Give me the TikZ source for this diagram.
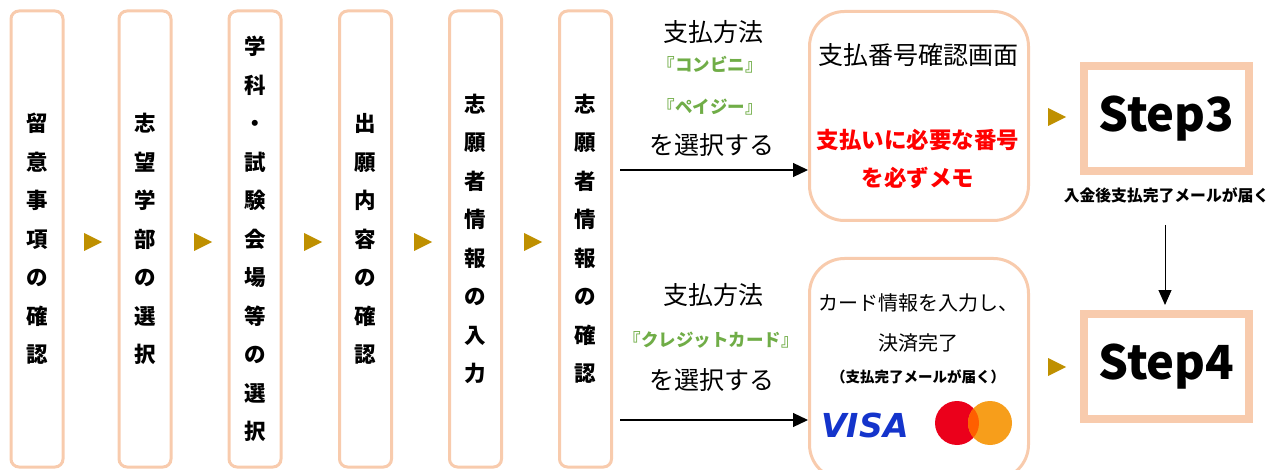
\documentclass[tikz,border=0pt]{standalone}
\usepackage{fontspec}
\newfontfamily\jp{Noto Sans CJK JP}
\newfontfamily\visafont{DejaVu Sans}
\usetikzlibrary{arrows.meta}
\definecolor{peach}{HTML}{F8CBAD}
\definecolor{gold}{HTML}{BF9000}
\definecolor{lgreen}{HTML}{70AD47}
\definecolor{visablue}{HTML}{1434CB}
\definecolor{mcred}{HTML}{EB001B}
\definecolor{mcyellow}{HTML}{F79E1B}
\definecolor{mcorange}{HTML}{FF5F00}
\newcommand\fsz[2]{\fontsize{#1}{#2}\selectfont}
\begin{document}
\begin{tikzpicture}[x=1pt,y=-1pt,
 colbox/.style={draw=peach,line width=3pt,rounded corners=8pt,minimum width=52pt,minimum height=456pt,inner sep=0pt,align=center,font=\jp\bfseries\fsz{21.5}{38.5}},
 rbox/.style={draw=peach,line width=3pt,rounded corners=35pt,minimum width=219pt,inner sep=0pt},
 stepbox/.style={draw=peach,line width=8pt,minimum width=165pt,minimum height=105pt,inner sep=0pt,font=\jp\bfseries\fsz{47}{50}},
 txt/.style={inner sep=0pt,font=\jp\fsz{25}{30}},
 grn/.style={inner sep=0pt,text=lgreen,font=\jp\bfseries\fsz{17.5}{20}},
 redtxt/.style={inner sep=0pt,text=red,font=\jp\bfseries\fsz{22.5}{26}},
 conn/.style={line width=1.2pt,-{Triangle[length=15pt,width=14pt]}},
]
\useasboundingbox (0,0) rectangle (1271,470);
% columns
\node[colbox] (c1) at (37,239) {留\\意\\事\\項\\の\\確\\認};
\node[colbox] (c2) at (145,239) {志\\望\\学\\部\\の\\選\\択};
\node[colbox] (c3) at (255,239) {学\\科\\・\\試\\験\\会\\場\\等\\の\\選\\択};
\node[colbox] (c4) at (365.5,239) {出\\願\\内\\容\\の\\確\\認};
\node[colbox] (c5) at (475.5,239) {志\\願\\者\\情\\報\\の\\入\\力};
\node[colbox] (c6) at (585.5,239) {志\\願\\者\\情\\報\\の\\確\\認};
% gold markers
\foreach \x/\y in {93/242,203/242,313/242,423/242,533/242,1057/117,1057/367}
  \fill[gold] (\x-9,\y-9) -- (\x+9,\y) -- (\x-9,\y+9) -- cycle;
% upper branch
\node[txt] (m1) at (713,32) {支払方法};
\node[grn] (m2) at (710,65) {『コンビニ』};
\node[grn] (m3) at (710,107) {『ペイジー』};
\node[txt] (m4) at (712,145) {を選択する};
\node[rbox,minimum height=209pt] (p1) at (919,116) {};
\coordinate (s1) at (620,170);
\draw[conn] (s1) -- (s1 -| p1.west);
\node[txt] (t1) at (918,55) {支払番号確認画面};
\node[redtxt] (t2) at (918,140) {支払いに必要な番号};
\node[redtxt] (t3) at (918,178) {を必ずメモ};
% lower branch
\node[txt] (n1) at (713,295) {支払方法};
\node[grn] (n2) at (711,340) {『クレジットカード』};
\node[txt] (n3) at (712,380) {を選択する};
\node[rbox,minimum height=221pt] (p2) at (919,369) {};
\coordinate (s2) at (620,420);
\draw[conn] (s2) -- (s2 -| p2.west);
\node[inner sep=0pt,font=\jp\fsz{20}{24}] (u1) at (918,303) {カード情報を入力し、};
\node[inner sep=0pt,font=\jp\fsz{20}{24}] (u2) at (918,343) {決済完了};
\node[inner sep=0pt,font=\jp\bfseries\fsz{14.5}{16}] (u3) at (918,377) {（支払完了メールが届く）};
\node[inner sep=0pt,text=visablue,font=\visafont\bfseries\itshape\fsz{33}{36}] (visa) at (865,425) {VISA};
\fill[mcred] (957,423) circle (22);
\fill[mcyellow] (990,423) circle (22);
\begin{scope}
\clip (957,423) circle (22);
\fill[mcorange] (990,423) circle (22);
\end{scope}
% steps
\node[stepbox] (st3) at (1166.5,118.5) {Step3};
\node[inner sep=0pt,font=\jp\bfseries\fsz{15.8}{18}] (lab) at (1166.5,195) {入金後支払完了メールが届く};
\node[stepbox] (st4) at (1166.5,366.5) {Step4};
\coordinate (d1) at (1165,225);
\draw[line width=1pt,-{Triangle[length=15pt,width=13pt]},shorten >=5pt] (d1) -- (d1 |- st4.north);
\end{tikzpicture}
\end{document}
